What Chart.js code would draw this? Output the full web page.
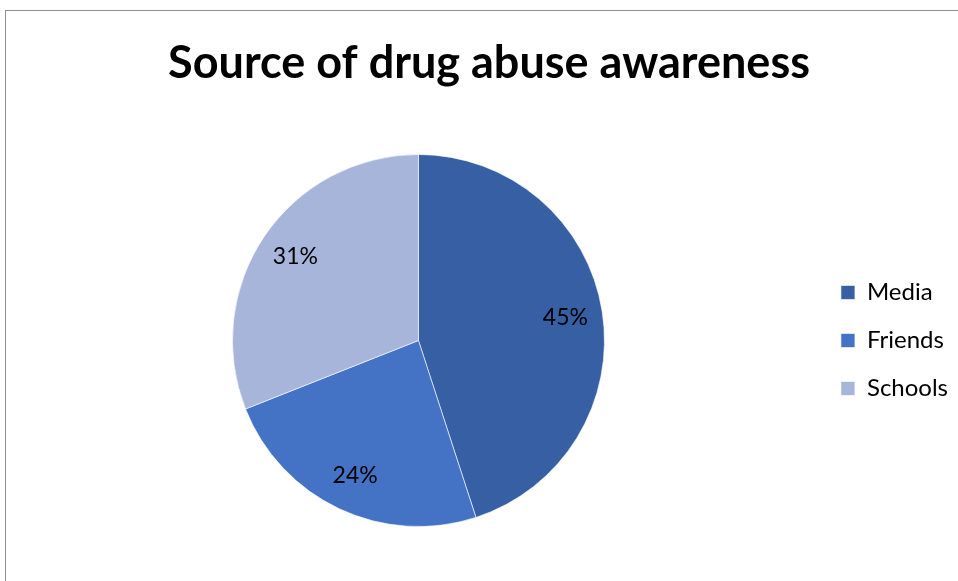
<!DOCTYPE html>
<html>
  <head>
    <meta charset='utf-8'>
    <title>Source of drug abuse awareness</title>
    <style>
      body { margin: 0; background: #fff; }
      #wrap { position: relative; width: 958px; height: 581px; }
      #frame {
        position: absolute; left: 5px; top: 10px; right: 0; bottom: 0;
        border-left: 1px solid #8f8f8f; border-top: 1px solid #8f8f8f;
        pointer-events: none;
      }
    </style>
    <script src='https://cdn.jsdelivr.net/npm/chart.js@4'></script>
  </head>
  <body>
    <div id='wrap'>
      <canvas id='pie' width='958' height='581'></canvas>
      <div id='frame'></div>
    </div>
    <script>
    var labels = ['Media', 'Friends', 'Schools'];
    var shares = [45, 24, 31];
    var colors = ['#375fa3', '#4472c4', '#a7b5da'];

    // percent labels inside each slice
    var sliceLabels = {
      id: 'sliceLabels',
      afterDatasetsDraw: function(chart) {
        var ctx = chart.ctx;
        var meta = chart.getDatasetMeta(0);
        ctx.save();
        ctx.font = '23px Lato';
        ctx.fillStyle = '#000';
        ctx.textAlign = 'center';
        ctx.textBaseline = 'middle';
        meta.data.forEach(function(arc, i) {
          var p = arc.getProps(['x', 'y', 'startAngle', 'endAngle', 'outerRadius'], true);
          var mid = (p.startAngle + p.endAngle) / 2;
          var r = p.outerRadius * 0.8;
          ctx.fillText(shares[i] + '%', p.x + Math.cos(mid) * r, p.y + Math.sin(mid) * r);
        });
        ctx.restore();
      }
    };

    // keep the legend centred on the pie, not on the whole canvas height
    var legendBox = {
      id: 'legendBox',
      afterLayout: function(chart) {
        chart.legend.top = chart.chartArea.top;
        chart.legend.bottom = chart.chartArea.bottom;
      }
    };

    new Chart(document.getElementById('pie').getContext('2d'), {
      type: 'pie',
      data: {
        labels: labels,
        datasets: [{
          data: shares,
          backgroundColor: colors,
          borderColor: 'rgba(255,255,255,0.6)',
          borderWidth: 1
        }]
      },
      options: {
        responsive: false,
        animation: false,
        layout: { padding: { left: 20, right: 0, top: 0, bottom: 54 } },
        plugins: {
          title: {
            display: true,
            text: 'Source of drug abuse awareness',
            color: '#000',
            font: { family: 'Lato', size: 45, weight: 'bold' },
            padding: { top: 36, bottom: 64 }
          },
          legend: {
            position: 'right',
            labels: {
              color: '#000',
              font: { family: 'Lato', size: 24 },
              boxWidth: 14,
              boxHeight: 14,
              padding: 24
            }
          },
          tooltip: { enabled: false }
        }
      },
      plugins: [sliceLabels, legendBox]
    });
    </script>
  </body>
</html>
